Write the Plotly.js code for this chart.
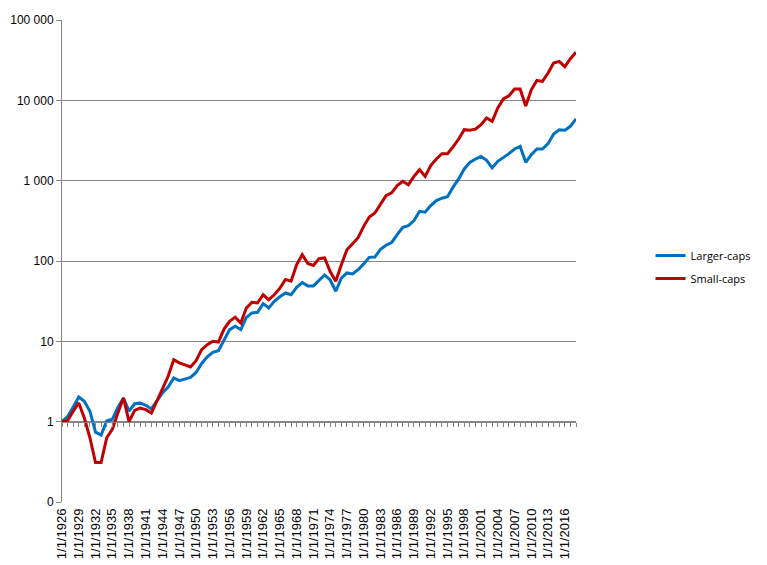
<!DOCTYPE html>
<html>
<head>
<meta charset="utf-8">
<script src="https://cdn.plot.ly/plotly-3.0.1.min.js"></script>
<style>html,body{margin:0;padding:0;background:#fff;}#chart{width:767px;height:565px;}</style>
</head>
<body>
<div id="chart"></div>
<script>
const years = [];
for (let y = 1926; y <= 2018; y++) years.push(y);

const largerCaps = [1.0,1.16,1.52,2.03,1.79,1.35,0.74,0.68,1.02,1.07,
  1.5,1.97,1.35,1.67,1.7,1.6,1.44,1.79,2.3,2.7,
  3.5,3.24,3.4,3.56,4.1,5.3,6.4,7.3,7.65,10.5,
  14,15.4,14,19.9,22.6,23,29.5,26,31.5,36,
  40,38,47,54,49,49,58,67,58,42,
  61,71,69,78,92,111,112,140,157,170,
  213,262,276,318,415,405,490,565,605,630,
  830,1050,1400,1690,1860,2000,1790,1440,1740,1920,
  2170,2480,2670,1690,2110,2480,2480,2890,3800,4310,
  4240,4750,5890];

const smallCaps = [1.0,1.03,1.35,1.71,1.11,0.63,0.31,0.31,0.63,0.8,
  1.28,1.97,1.0,1.38,1.48,1.41,1.28,1.79,2.6,3.67,
  5.9,5.4,5.1,4.8,5.75,7.9,9.1,10.0,9.8,14.2,
  17.7,20,16.9,26,30.6,30,38,33,38,46,
  59,56,90,120,93,88,107,109,74,56,
  90,138,164,195,270,353,396,503,650,705,
  870,980,890,1130,1370,1130,1540,1860,2170,2170,
  2630,3300,4310,4240,4370,4980,6030,5480,8030,10400,
  11400,13800,13800,8520,13500,17700,17200,21900,29200,30600,
  26300,33000,39700];

const yTickVals = [0.1,1,10,100,1000,10000,100000];
const yTickText = ["0","1","10","100","1 000","10 000","100 000"];
const xTickVals = years.filter(y => (y - 1926) % 3 === 0);
const xTickText = xTickVals.map(y => "1/1/" + y);

const traces = [
  {x: years, y: largerCaps, name: "Larger-caps", type: "scatter", mode: "lines",
   legendgroup: "a", line: {color: "#0070C0", width: 3}},
  {x: years, y: smallCaps, name: "Small-caps", type: "scatter", mode: "lines",
   legendgroup: "b", line: {color: "#C00000", width: 3}},
  {x: years, y: years.map(() => 1), xaxis: "x2", type: "scatter", mode: "lines",
   line: {color: "rgba(0,0,0,0)", width: 0}, showlegend: false, hoverinfo: "skip"}
];

const layout = {
  width: 767, height: 565,
  margin: {l: 62, r: 181, t: 20, b: 63},
  paper_bgcolor: "#fff", plot_bgcolor: "#fff",
  font: {family: "Liberation Sans, Arial, sans-serif", color: "#000", size: 12},
  showlegend: true,
  legend: {x: 1.145, y: 0.4876, xanchor: "left", yanchor: "middle",
    font: {family: "Open Sans, sans-serif", size: 11, color: "#000"},
    traceorder: "grouped", tracegroupgap: 4, itemwidth: 30},
  xaxis: {range: [1926, 2018], tickvals: xTickVals, ticktext: xTickText,
    tickangle: -90, showgrid: false, zeroline: false, showline: false,
    ticks: "", tickfont: {size: 13}, ticklabelstandoff: 3, fixedrange: true},
  xaxis2: {range: [1926, 2018], overlaying: "x", anchor: "free", position: 1/6,
    showline: true, linecolor: "#868686", linewidth: 1, ticks: "outside",
    tickvals: years, ticklen: 4, tickcolor: "#868686", showticklabels: false,
    showgrid: false, zeroline: false, side: "bottom"},
  yaxis: {type: "log", range: [-1, 5], tickvals: yTickVals, ticktext: yTickText,
    showgrid: true, gridcolor: "#868686", gridwidth: 1, showline: true,
    linecolor: "#868686", linewidth: 1, ticks: "outside", ticklen: 5, tickcolor: "#868686",
    zeroline: false, tickfont: {size: 12}}
};

Plotly.newPlot("chart", traces, layout, {displayModeBar: false, staticPlot: true});
</script>
</body>
</html>
